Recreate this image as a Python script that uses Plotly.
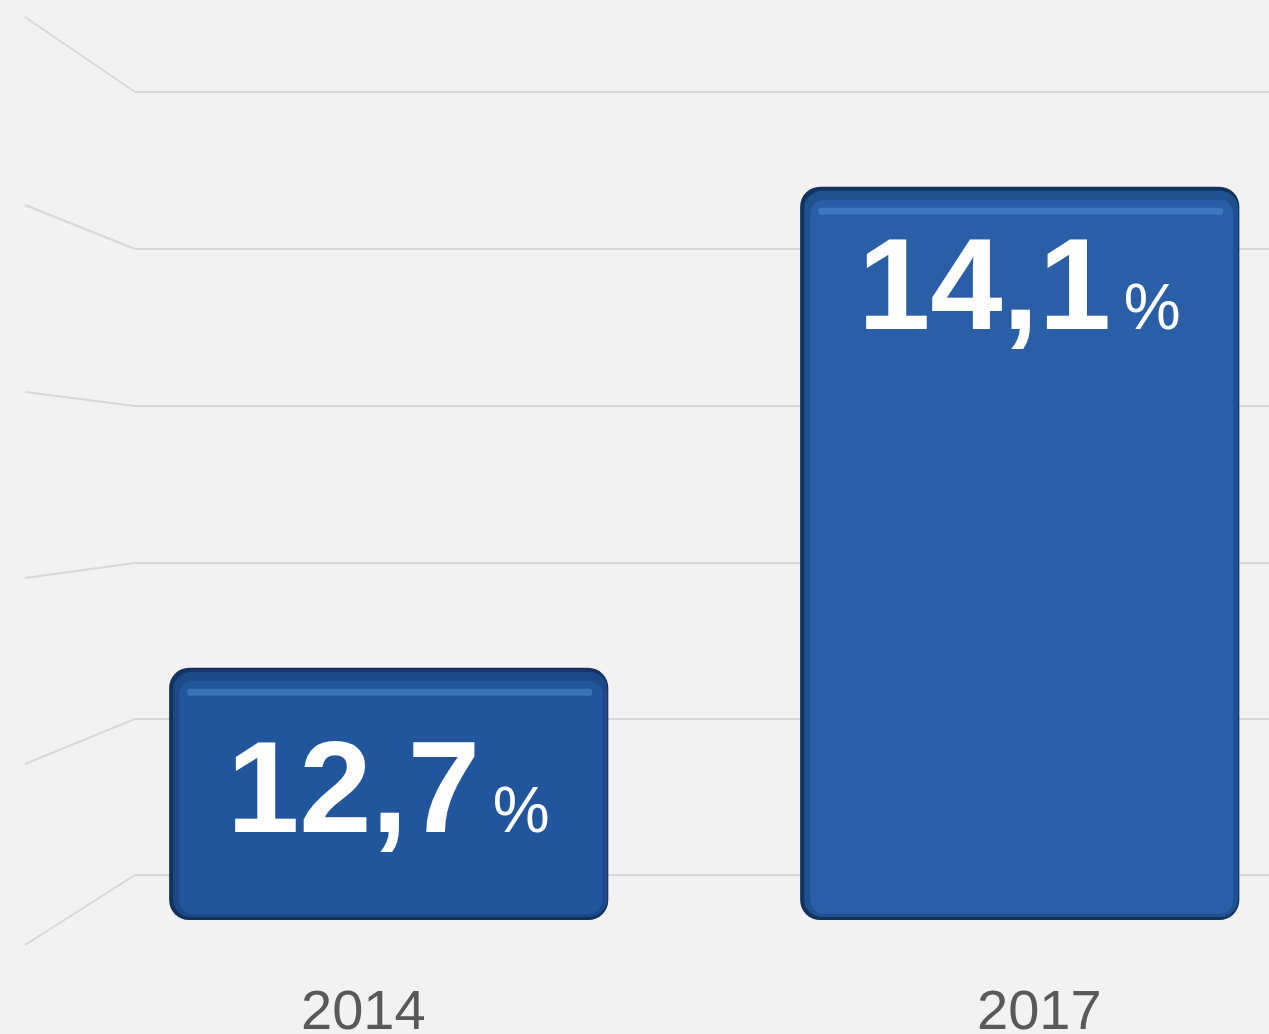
import plotly.graph_objects as go

# ---- data ----
years = ["2014", "2017"]
values = [12.7, 14.1]
axis_base = 11.966

# ---- styling ----
W, H = 1269, 1034
face_colors = ["#22569c", "#2a5ea6"]
mid_colors = ["#1c4a88", "#21508f"]
edge_color = "#12335f"
text_shift_px = [-44, -22]
year_xshift_px = [-25, 20]

# axis geometry (pixel calibration of the reference layout)
px_per_unit = 343.6
y_top = axis_base + 920 / px_per_unit
y_bottom = y_top - H / px_per_unit
x_range = [-0.616, 1.395]
bar_width = 0.696

def fmt(v):
    return f"{v:.1f}".replace(".", ",")

fig = go.Figure()

px_u = 1.0 / px_per_unit
xpx = (x_range[1] - x_range[0]) / W

# outer dark shell
fig.add_trace(go.Bar(
    x=years, y=[v - axis_base for v in values], base=axis_base,
    width=bar_width, marker=dict(color=edge_color, cornerradius=20, line=dict(width=0)),
    hoverinfo="skip", showlegend=False))

# mid bevel layer
fig.add_trace(go.Bar(
    x=years, y=[v - axis_base - 7 * px_u for v in values], base=axis_base + 3 * px_u,
    width=bar_width - 5 * xpx, offset=-bar_width / 2 + 4 * xpx,
    marker=dict(color=mid_colors, cornerradius=18, line=dict(width=0)),
    hoverinfo="skip", showlegend=False))

# face
fig.add_trace(go.Bar(
    x=years, y=[v - axis_base - 19 * px_u for v in values], base=axis_base + 6 * px_u,
    width=bar_width - 16 * xpx, offset=-bar_width / 2 + 10 * xpx,
    marker=dict(color=face_colors, cornerradius=14, line=dict(width=0)),
    hoverinfo="skip", showlegend=False))

# highlight band on the top bevel
fig.add_trace(go.Bar(
    x=years, y=[7 * px_u for v in values], base=[v - 28 * px_u for v in values],
    width=bar_width - 34 * xpx, offset=-bar_width / 2 + 18 * xpx,
    marker=dict(color="rgba(78,140,210,0.55)", cornerradius=3, line=dict(width=0)),
    hoverinfo="skip", showlegend=False))

annotations = []
for i, (yr, v, sh) in enumerate(zip(years, values, text_shift_px)):
    annotations.append(dict(
        x=i, y=v, xref="x", yref="y", yanchor="top", xanchor="center",
        yshift=sh, showarrow=False,
        text="<b>" + fmt(v) + "</b><span style=\"font-size:64px\">\u2009%</span>",
        font=dict(family="Liberation Sans, Arial, sans-serif", size=130, color="#ffffff")))
for i, (yr, xs) in enumerate(zip(years, year_xshift_px)):
    annotations.append(dict(
        x=i, y=axis_base, xref="x", yref="y", yanchor="top", xanchor="center",
        yshift=-56, xshift=xs, showarrow=False, text=yr,
        font=dict(family="Liberation Sans, sans-serif", size=56, color="#595959")))

# decorative perspective grid: horizontal lines + slanted lead-ins on the left
grid_px = [92, 249, 406, 563, 719, 875]
lead_px = [17, 205, 392, 578, 764, 945]
shapes = []
def py(p):
    return y_top - p / px_per_unit
for g, l in zip(grid_px, lead_px):
    shapes.append(dict(type="line", xref="paper", yref="y", x0=135 / W, x1=1, y0=py(g), y1=py(g),
                       line=dict(color="#d8d8d8", width=2), layer="below"))
    shapes.append(dict(type="line", xref="paper", yref="y", x0=25 / W, x1=135 / W, y0=py(l), y1=py(g),
                       line=dict(color="#d8d8d8", width=2), layer="below"))

fig.update_layout(
    width=W, height=H,
    margin=dict(l=0, r=0, t=0, b=0),
    paper_bgcolor="#f2f2f2", plot_bgcolor="#f2f2f2",
    barmode="overlay",
    xaxis=dict(range=x_range, showticklabels=False, showgrid=False, zeroline=False,
               showline=False, type="category", fixedrange=True),
    yaxis=dict(range=[y_bottom, y_top], showticklabels=False, showgrid=False,
               zeroline=False, showline=False, fixedrange=True),
    annotations=annotations, shapes=shapes,
    showlegend=False,
)

fig.write_html("out.html", config={"displayModeBar": False},
               post_script="document.body.style.margin='0';document.body.style.background='#f2f2f2';")
